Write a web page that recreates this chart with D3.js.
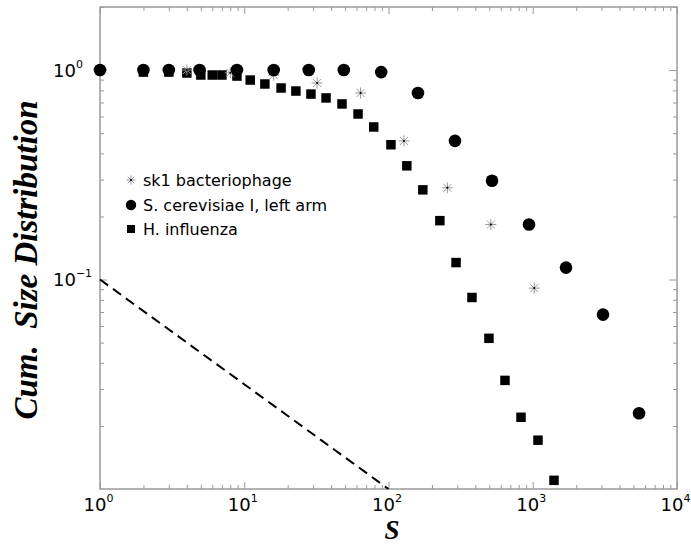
<!DOCTYPE html>
<html><head><meta charset="utf-8">
<script src="https://cdn.jsdelivr.net/npm/d3@7"></script>
<style>
body{margin:0;background:#fff;}
svg{display:block;}
</style></head>
<body>
<svg id="chart" width="691" height="545"></svg>
<script>
// ---- data ----
const sk1S = [4, 8, 16, 32, 64, 128, 256, 512, 1024];
const sk1P = [1.0, 0.97, 0.946, 0.867, 0.777, 0.459, 0.274, 0.183, 0.091];

const cerS = [1, 2, 3, 4.9, 8.9, 16, 28, 49, 89, 160, 289, 522, 942, 1700, 3070, 5456];
const cerP = [1.0, 1.0, 1.0, 1.0, 1.0, 1.0, 1.0, 1.0, 0.978, 0.777, 0.459, 0.296, 0.183, 0.114, 0.068, 0.023];

const hinS = [2, 3, 4, 5, 6, 7, 8.9, 11, 13.9, 18, 22.8, 29, 36.9, 47.6, 61.5, 79, 104, 134, 173, 227, 294, 379, 497, 642, 829, 1087, 1404];
const hinP = [0.978, 0.978, 0.968, 0.947, 0.947, 0.947, 0.936, 0.896, 0.858, 0.821, 0.794, 0.768, 0.736, 0.689, 0.617, 0.535, 0.440, 0.349, 0.268, 0.191, 0.1205, 0.0821, 0.0524, 0.0330, 0.0220, 0.0171, 0.0110];

const refS = [1, 100];
const refP = [0.1, 0.01];

const seriesNames = ["sk1 bacteriophage", "S. cerevisiae I, left arm", "H. influenza"];
const xMajor = [1, 10, 100, 1000, 10000];
const yMajor = [1, 0.1];
const xTitle = "S";
const yTitle = "Cum.  Size Distribution";

// ---- layout ----
const L = 100, R = 677, T = 7, B = 489;
const svg = d3.select("#chart");
const x = d3.scaleLog().domain([1, 1e4]).range([L, R]);
const y = d3.scaleLog().domain([0.01, 2]).range([B, T]);

const xMinor = [];
for (let e = 0; e < 4; e++) for (let k = 2; k <= 9; k++) xMinor.push(k * Math.pow(10, e));
const yMinor = [];
for (let e = -2; e <= 0; e++) for (let k = 2; k <= 9; k++) { const v = k * Math.pow(10, e); if (v <= 2) yMinor.push(v); }

const frameColor = "#9a9a9a";
function styleAxis(g) {
  g.select(".domain").remove();
  g.selectAll(".tick line").attr("stroke", frameColor).attr("stroke-width", 1);
}
const noFmt = d => "";

// minor ticks
svg.append("g").attr("transform", `translate(0,${B})`)
  .call(d3.axisBottom(x).tickValues(xMinor).tickSize(-4).tickFormat(noFmt)).call(styleAxis);
svg.append("g").attr("transform", `translate(0,${T})`)
  .call(d3.axisTop(x).tickValues(xMinor).tickSize(-4).tickFormat(noFmt)).call(styleAxis);
svg.append("g").attr("transform", `translate(${L},0)`)
  .call(d3.axisLeft(y).tickValues(yMinor).tickSize(-4).tickFormat(noFmt)).call(styleAxis);
svg.append("g").attr("transform", `translate(${R},0)`)
  .call(d3.axisRight(y).tickValues(yMinor).tickSize(-4).tickFormat(noFmt)).call(styleAxis);

// major ticks
const gxb = svg.append("g").attr("transform", `translate(0,${B})`)
  .call(d3.axisBottom(x).tickValues(xMajor).tickSize(-7).tickFormat(d => "10")).call(styleAxis);
svg.append("g").attr("transform", `translate(0,${T})`)
  .call(d3.axisTop(x).tickValues(xMajor).tickSize(-7).tickFormat(noFmt)).call(styleAxis);
const gyl = svg.append("g").attr("transform", `translate(${L},0)`)
  .call(d3.axisLeft(y).tickValues(yMajor).tickSize(-7).tickFormat(d => "10")).call(styleAxis);
svg.append("g").attr("transform", `translate(${R},0)`)
  .call(d3.axisRight(y).tickValues(yMajor).tickSize(-8).tickFormat(noFmt)).call(styleAxis);

const labelFont = "'DejaVu Sans', sans-serif";
gxb.selectAll(".tick text")
  .attr("font-family", labelFont).attr("font-size", 18).attr("fill", "#000")
  .attr("text-anchor", "start").attr("x", -17).attr("dy", null).attr("y", 22)
  .each(function(d) {
    const e = Math.round(Math.log10(d));
    d3.select(this).append("tspan").attr("font-size", 11).attr("dy", -9).text(e);
  });

gyl.selectAll(".tick text")
  .attr("font-family", labelFont).attr("font-size", 18).attr("fill", "#000")
  .attr("text-anchor", "start").attr("x", -47).attr("dy", "0.35em")
  .each(function(d) {
    const e = Math.round(Math.log10(d));
    d3.select(this).append("tspan").attr("font-size", 11).attr("dy", -9).text(e === 0 ? "0" : "\u22121");
  });

// frame
svg.append("rect").attr("x", L).attr("y", T).attr("width", R - L).attr("height", B - T)
  .attr("fill", "none").attr("stroke", frameColor).attr("stroke-width", 1.5);

// reference dashed line
svg.append("path")
  .attr("d", d3.line().x((d, i) => x(refS[i])).y((d, i) => y(refP[i]))(refS))
  .attr("fill", "none").attr("stroke", "#000").attr("stroke-width", 2)
  .attr("stroke-dasharray", "10,6");

// markers
const asterPath = (s) => {
  const a = s, b = s * 0.72;
  return `M${-a},0L${a},0M0,${-a}L0,${a}M${-b},${-b}L${b},${b}M${-b},${b}L${b},${-b}`;
};
function drawAster(g, cx, cy, s) {
  g.append("path").attr("transform", `translate(${cx},${cy})`).attr("d", asterPath(s))
    .attr("stroke", "#999").attr("stroke-width", 1).attr("fill", "none");
  g.append("circle").attr("cx", cx).attr("cy", cy).attr("r", 1).attr("fill", "#000");
}
const sq = d3.symbol().type(d3.symbolSquare).size(90);
const ci = d3.symbol().type(d3.symbolCircle).size(Math.PI * 6.3 * 6.3);

const gH = svg.append("g");
hinS.forEach((s, i) => gH.append("path").attr("transform", `translate(${x(s)},${y(hinP[i])})`).attr("d", sq()).attr("fill", "#000"));
const gA = svg.append("g");
sk1S.forEach((s, i) => drawAster(gA, x(s), y(sk1P[i]), 5.5));
const gC = svg.append("g");
cerS.forEach((s, i) => gC.append("path").attr("transform", `translate(${x(s)},${y(cerP[i])})`).attr("d", ci()).attr("fill", "#000"));

// legend
const legX = 131, legY = [180, 205, 229];
const lg = svg.append("g");
drawAster(lg, legX, legY[0], 4.5);
lg.append("path").attr("transform", `translate(${legX},${legY[1]})`).attr("d", d3.symbol().type(d3.symbolCircle).size(Math.PI * 5.2 * 5.2)()).attr("fill", "#000");
lg.append("path").attr("transform", `translate(${legX},${legY[2]})`).attr("d", d3.symbol().type(d3.symbolSquare).size(64)()).attr("fill", "#000");
seriesNames.forEach((n, i) => lg.append("text").attr("x", 143).attr("y", legY[i]).attr("dy", "0.36em")
  .attr("font-family", labelFont).attr("font-size", 16).attr("fill", "#000").text(n));

// axis titles
svg.append("text").attr("x", 392).attr("y", 539).attr("text-anchor", "middle")
  .attr("font-family", "'Liberation Serif', serif").attr("font-style", "italic").attr("font-weight", "bold")
  .attr("font-size", 27).attr("fill", "#000").text(xTitle);
svg.append("text").attr("transform", "translate(37,260) rotate(-90)").attr("text-anchor", "middle")
  .attr("font-family", "'Liberation Serif', serif").attr("font-style", "italic").attr("font-weight", "bold")
  .attr("font-size", 33).attr("fill", "#000").attr("xml:space", "preserve").style("white-space", "pre").text(yTitle);
</script>
</body></html>
